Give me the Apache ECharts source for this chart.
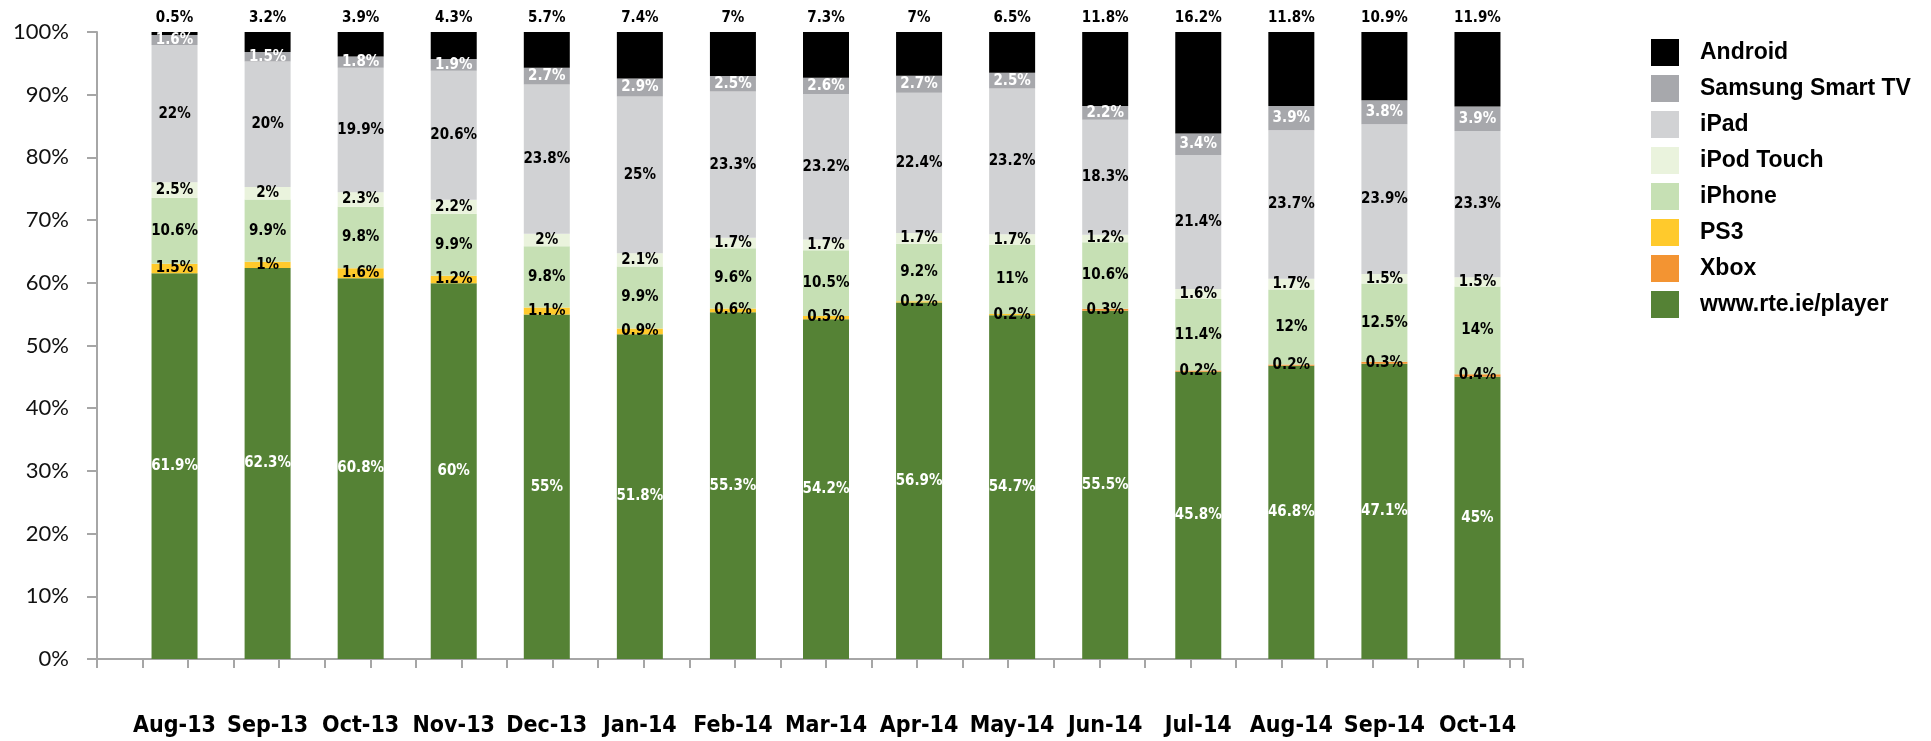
<!DOCTYPE html>
<html>
<head>
    <meta charset="UTF-8">
    <title>Device share</title>
    <script src="https://cdn.jsdelivr.net/npm/echarts@6/dist/echarts.min.js"></script>
    <style>
        html, body { margin: 0; padding: 0; background: #fff; }
        #chart { width: 1931px; height: 741px; }
    </style>
</head>
<body>
<div id="chart"></div>
<script type="text/javascript">
    var months = ['Aug-13', 'Sep-13', 'Oct-13', 'Nov-13', 'Dec-13', 'Jan-14', 'Feb-14', 'Mar-14',
        'Apr-14', 'May-14', 'Jun-14', 'Jul-14', 'Aug-14', 'Sep-14', 'Oct-14'];

    // stacked bottom to top
    var player = [61.9, 62.3, 60.8, 60, 55, 51.8, 55.3, 54.2, 56.9, 54.7, 55.5, 45.8, 46.8, 47.1, 45];
    var xbox = [0, 0, 0, 0, 0, 0, 0, 0, 0, 0, 0.3, 0.2, 0.2, 0.3, 0.4];
    var ps3 = [1.5, 1, 1.6, 1.2, 1.1, 0.9, 0.6, 0.5, 0.2, 0.2, 0, 0, 0, 0, 0];
    var iphone = [10.6, 9.9, 9.8, 9.9, 9.8, 9.9, 9.6, 10.5, 9.2, 11, 10.6, 11.4, 12, 12.5, 14];
    var ipod = [2.5, 2, 2.3, 2.2, 2, 2.1, 1.7, 1.7, 1.7, 1.7, 1.2, 1.6, 1.7, 1.5, 1.5];
    var ipad = [22, 20, 19.9, 20.6, 23.8, 25, 23.3, 23.2, 22.4, 23.2, 18.3, 21.4, 23.7, 23.9, 23.3];
    var samsung = [1.6, 1.5, 1.8, 1.9, 2.7, 2.9, 2.5, 2.6, 2.7, 2.5, 2.2, 3.4, 3.9, 3.8, 3.9];
    var android = [0.5, 3.2, 3.9, 4.3, 5.7, 7.4, 7, 7.3, 7, 6.5, 11.8, 16.2, 11.8, 10.9, 11.9];

    var legendOrder = ['Android', 'Samsung Smart TV', 'iPad', 'iPod Touch', 'iPhone', 'PS3', 'Xbox', 'www.rte.ie/player'];

    var condensed = "'DejaVu Sans Condensed', 'Liberation Sans Narrow', 'Roboto Condensed', sans-serif";

    // 100% stacked: each month scaled to its own total, labels keep the raw value
    var totals = months.map(function (m, i) {
        return player[i] + xbox[i] + ps3[i] + iphone[i] + ipod[i] + ipad[i] + samsung[i] + android[i];
    });

    function pct(p) {
        return p.data.raw > 0 ? p.data.raw + '%' : '';
    }

    function makeSeries(name, values, color, labelColor, pos) {
        return {
            name: name,
            type: 'bar',
            stack: 'total',
            xAxisIndex: 0,
            yAxisIndex: 0,
            barWidth: 46,
            data: values.map(function (v, i) {
                return {value: v / totals[i] * 100, raw: v};
            }),
            itemStyle: {color: color},
            label: {
                show: true,
                position: pos || 'inside',
                distance: 6,
                formatter: pct,
                color: labelColor,
                fontFamily: condensed,
                fontWeight: 'bold',
                fontSize: 15
            }
        };
    }

    var chart = echarts.init(document.getElementById('chart'));
    chart.setOption({
        animation: false,
        backgroundColor: '#fff',
        grid: [
            {left: 128, top: 32, width: 1396, height: 627},
            {left: 97, top: 32, width: 1426, height: 627}
        ],
        legend: {
            orient: 'vertical',
            left: 1646,
            top: 34,
            itemWidth: 28,
            itemHeight: 27,
            itemGap: 9,
            icon: 'rect',
            data: legendOrder,
            textStyle: {
                fontFamily: "'Liberation Sans', Arial, sans-serif",
                fontWeight: 'bold',
                fontSize: 23,
                color: '#000',
                padding: [0, 0, 0, 16]
            }
        },
        xAxis: [{
            gridIndex: 0,
            type: 'category',
            data: months,
            axisLine: {show: false},
            axisTick: {show: false},
            axisLabel: {
                interval: 0,
                margin: 56,
                fontFamily: condensed,
                fontWeight: 'bold',
                fontSize: 23,
                color: '#000'
            }
        }, {
            gridIndex: 1,
            type: 'value',
            min: 0,
            max: 31.3,
            interval: 1,
            axisLine: {show: true, lineStyle: {color: '#a6a6a6', width: 2}},
            axisTick: {show: true, length: 9, lineStyle: {color: '#a6a6a6', width: 2}},
            axisLabel: {show: false},
            splitLine: {show: false}
        }],
        yAxis: [{
            gridIndex: 0,
            type: 'value',
            min: 0,
            max: 100,
            show: false
        }, {
            gridIndex: 1,
            type: 'value',
            min: 0,
            max: 100,
            interval: 10,
            axisLine: {show: true, lineStyle: {color: '#a6a6a6', width: 2}},
            axisTick: {show: true, length: 10, lineStyle: {color: '#a6a6a6', width: 2}},
            axisLabel: {
                formatter: '{value}%',
                margin: 28,
                padding: [10, 0, 0, 0],
                fontFamily: "Lato, 'Open Sans', sans-serif",
                fontSize: 22,
                color: '#111'
            },
            splitLine: {show: false}
        }],
        series: [
            makeSeries('www.rte.ie/player', player, '#558235', '#fff'),
            makeSeries('Xbox', xbox, '#f39432', '#000'),
            makeSeries('PS3', ps3, '#ffca2c', '#000'),
            makeSeries('iPhone', iphone, '#c6e0b4', '#000'),
            makeSeries('iPod Touch', ipod, '#eaf3dd', '#000'),
            makeSeries('iPad', ipad, '#d1d2d4', '#000'),
            makeSeries('Samsung Smart TV', samsung, '#a7a8ac', '#fff'),
            makeSeries('Android', android, '#000000', '#000', 'top')
        ]
    });
</script>
</body>
</html>
